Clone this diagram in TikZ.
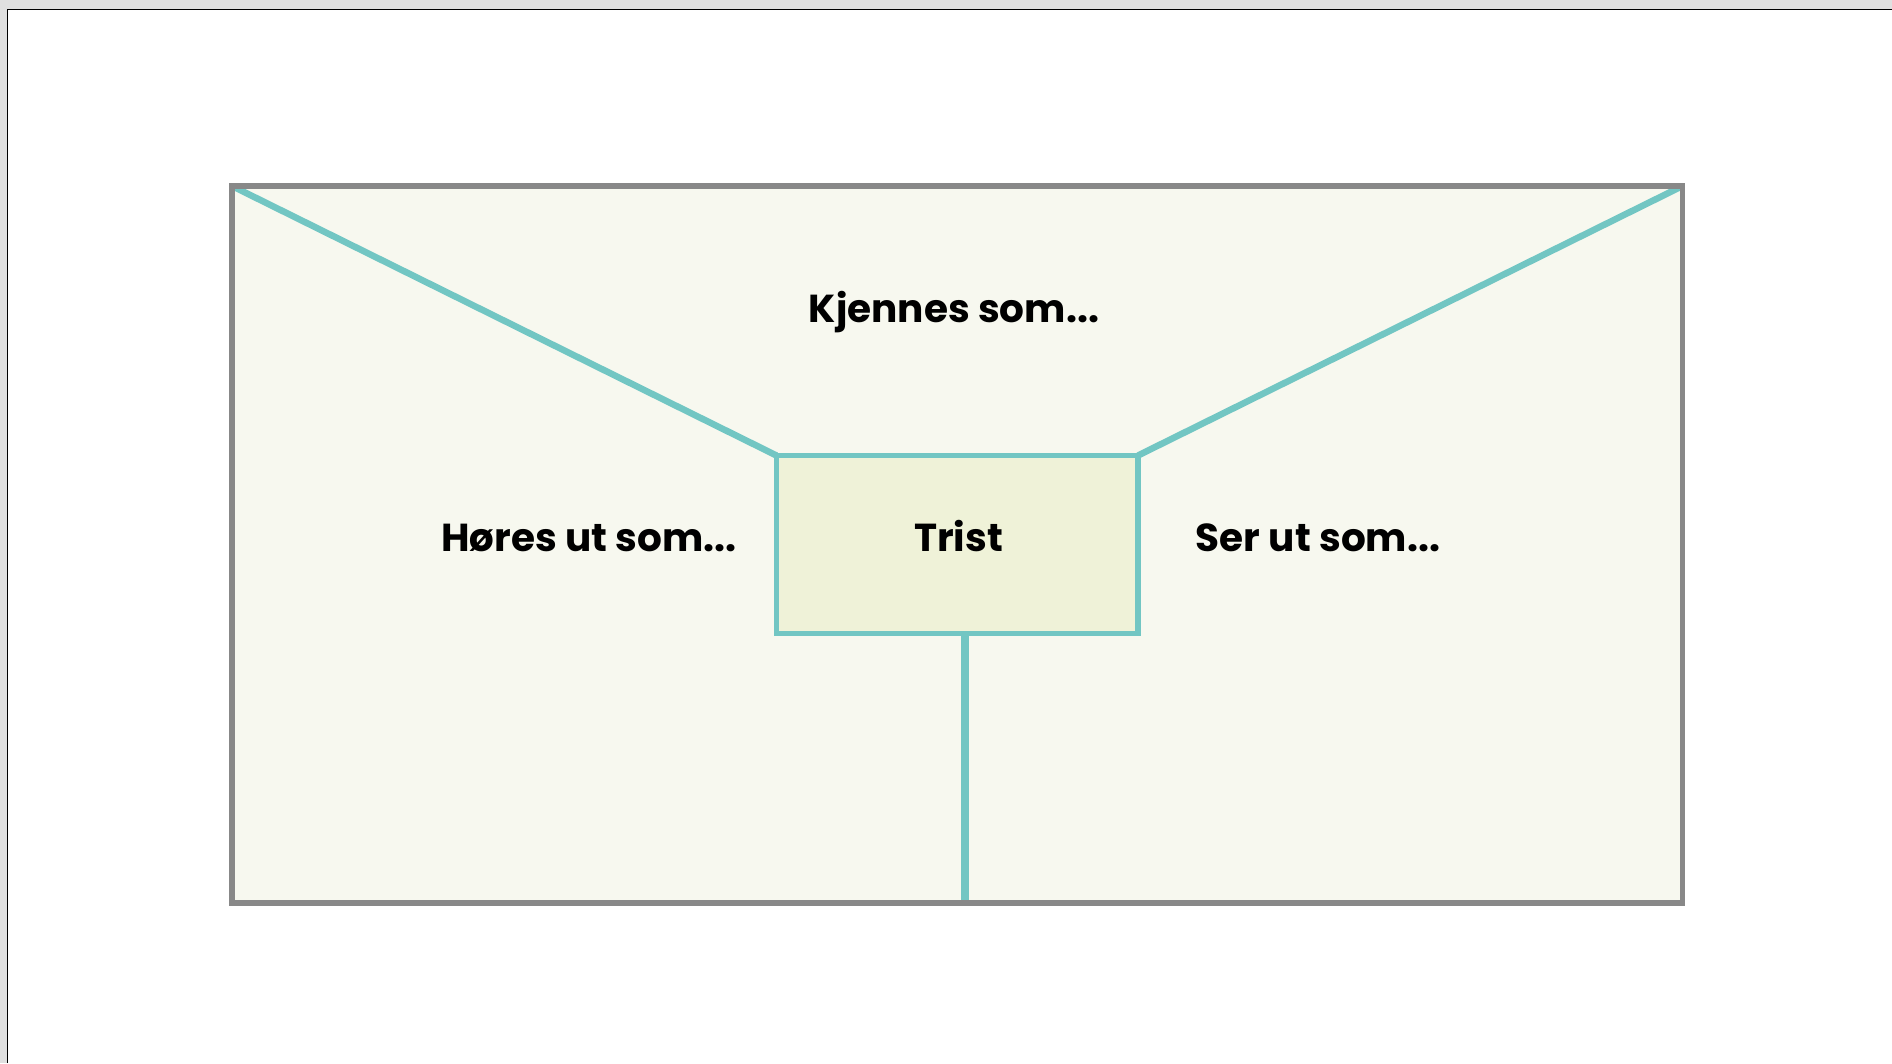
\documentclass[tikz,border=0pt]{standalone}
\usepackage{fontspec}
\setmainfont{Poppins}
\definecolor{teal1}{HTML}{72C6C3}
\definecolor{grayline}{HTML}{888888}
\definecolor{outerfill}{HTML}{F7F8EF}
\definecolor{boxfill}{HTML}{EFF2D8}
\definecolor{viewer}{HTML}{E0E0E0}
\begin{document}
\begin{tikzpicture}[x=1pt,y=-1pt,
  lbl/.style={font=\fontsize{39}{41}\selectfont\bfseries, inner sep=0pt, anchor=base},
  tealline/.style={draw=teal1, line width=6.5pt},
  every node/.style={outer sep=0pt},
]
\useasboundingbox (0,0) rectangle (1892,1063);
\fill[viewer] (0,0) rectangle (1892,1063);
\fill[white] (7.5,9.5) rectangle (1892,1063);
\draw[black, line width=1.5pt] (7.5,1063) -- (7.5,9.5) -- (1892,9.5);
% outer frame
\node[fill=outerfill, minimum width=1450.5pt, minimum height=717pt, inner sep=0pt, anchor=north west] (frame) at (232,186) {};
% central box
\node[fill=boxfill, minimum width=361.5pt, minimum height=178pt, inner sep=0pt, anchor=north west] (trist) at (776.5,455.5) {};
\draw[tealline] (frame.north west) -- (trist.north west);
\draw[tealline] (frame.north east) -- (trist.north east);
\coordinate (vtop) at (965,636);
\coordinate (vbot) at (965,901);
\draw[draw=teal1, line width=8pt] (vtop) -- (vbot);
\draw[draw=grayline, line width=5.5pt] (frame.north west) rectangle (frame.south east);
\draw[draw=teal1, line width=5.5pt] (trist.north west) rectangle (trist.south east);
% labels
\node[lbl] (kj) at (954,322) {Kjennes som...};
\node[lbl] (ho) at (589,551) {Høres ut som...};
\node[lbl] (se) at (1318,551) {Ser ut som...};
\node[lbl] (tr) at (958.5,551) {Trist};
\end{tikzpicture}
\end{document}
